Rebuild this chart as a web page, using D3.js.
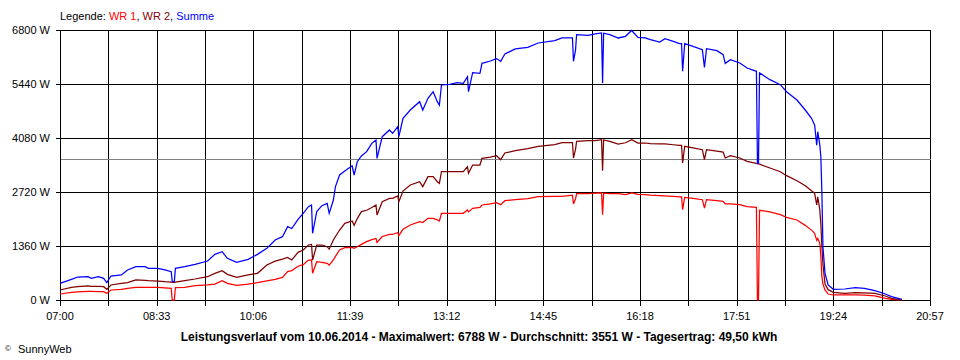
<!DOCTYPE html>
<html><head><meta charset="utf-8">
<script src="https://cdn.jsdelivr.net/npm/d3@7"></script>
<style>
html,body{margin:0;padding:0;background:#fff;}
svg{display:block;font-family:"Liberation Sans",Arial,sans-serif;}
</style></head><body>
<svg id="c" width="960" height="360"></svg>
<script>
const times = [
"07:00","07:11","07:17","07:27","07:30","07:37","07:42","07:45","07:49","07:59",
"08:05","08:13","08:22","08:25","08:34","08:41","08:47","08:48","08:50","08:51",
"09:00","09:10","09:22","09:29","09:36","09:41","09:50","10:01","10:10","10:19",
"10:27","10:34","10:39","10:43","10:49","10:54","10:59","11:02","11:03","11:07",
"11:12","11:17","11:19","11:23","11:25","11:29","11:34","11:41","11:43","11:46",
"11:50","11:55","12:00","12:04","12:05","12:10","12:17","12:20","12:25","12:26",
"12:30","12:37","12:46","12:49","12:54","12:59","13:03","13:05","13:07","13:15",
"13:22","13:28","13:32","13:33","13:37","13:44","13:46","13:54","14:00","14:04",
"14:08","14:18","14:30","14:40","14:56","15:03","15:13","15:14","15:16","15:17",
"15:28","15:35","15:41","15:42","15:43","15:49","15:57","16:04","16:10","16:16",
"16:23","16:28","16:37","16:42","16:50","16:56","16:58","16:59","17:01","17:09",
"17:18","17:20","17:22","17:32","17:38","17:40","17:45","17:54","18:01","18:10",
"18:11","18:12","18:13","18:23","18:33","18:39","18:49","18:57","19:03","19:06",
"19:08","19:09","19:11","19:12","19:13","19:14","19:16","19:19","19:24","19:35",
"19:45","19:54","20:04","20:14","20:20","20:30"];

const wr1 = [
151,193,205,218,218,214,210,168,252,270,
294,319,319,319,319,306,294,0,0,311,
320,361,378,400,487,420,370,400,436,480,
520,571,714,740,850,890,1007,1010,672,965,
950,923,880,1007,1100,1259,1318,1326,1300,1340,
1400,1470,1520,1550,1450,1600,1650,1650,1700,1620,
1780,1889,1973,1950,2057,2057,2020,1990,2183,2183,
2183,2183,2267,2220,2309,2330,2393,2420,2451,2400,
2501,2526,2551,2602,2611,2611,2640,2418,2550,2677,
2677,2690,2695,2149,2690,2677,2677,2652,2695,2660,
2652,2640,2630,2625,2611,2600,2600,2275,2586,2560,
2526,2317,2526,2500,2485,2418,2418,2401,2350,2334,
0,0,2259,2220,2150,2082,2015,1880,1760,1679,
1500,1550,1427,1091,587,400,252,150,126,126,
126,120,101,42,17,0];

const wr2 = [
252,319,336,353,345,345,336,269,378,420,
436,504,495,487,478,462,453,445,445,453,
487,529,587,672,739,647,571,630,672,881,
980,1030,1070,1007,1200,1259,1385,1400,1007,1385,
1385,1343,1280,1511,1600,1763,1931,1990,1880,2050,
2225,2260,2330,2393,2141,2476,2560,2560,2619,2476,
2745,2896,2980,2855,3106,3106,2980,2939,3232,3232,
3232,3232,3358,3190,3400,3400,3567,3600,3634,3534,
3702,3760,3810,3870,3911,3962,3962,3576,3800,3996,
4012,4012,4038,3257,4030,3996,3929,3960,4038,3954,
3954,3940,3929,3929,3910,3895,3895,3450,3870,3830,
3786,3534,3786,3750,3727,3576,3634,3576,3492,3440,
3433,3433,3420,3324,3230,3131,3005,2880,2750,2687,
2393,2600,2267,1900,1343,900,400,260,193,168,
185,180,168,101,42,0];

const summe = [
420,521,579,587,546,587,546,436,604,630,
756,839,839,797,797,756,714,462,462,797,
839,898,982,1150,1217,1049,948,1024,1150,1301,
1511,1595,1847,1800,2032,2183,2351,2393,1679,2225,
2376,2435,2183,2518,2855,3148,3249,3380,3148,3483,
3627,3735,3946,4030,3567,4113,4282,4198,4365,4113,
4575,4785,4995,4785,5079,5246,4995,4911,5415,5432,
5474,5457,5625,5246,5726,5709,5961,6019,6080,6011,
6196,6322,6364,6473,6531,6599,6599,6011,6300,6683,
6666,6700,6725,5465,6720,6683,6599,6641,6788,6616,
6599,6557,6498,6582,6515,6456,6456,5760,6456,6389,
6305,5860,6330,6280,6179,5960,6053,5969,5843,5760,
3433,3433,5717,5549,5423,5246,5037,4785,4575,4407,
3900,4239,3900,3610,2687,1343,672,378,269,277,
311,294,235,151,84,17];

const yTicks = [0,1360,2720,4080,5440,6800];
const xLabels = ["07:00","08:33","10:06","11:39","13:12","14:45","16:18","17:51","19:24","20:57"];
const average = 3551;
const seriesNames = ["WR 1","WR 2","Summe"];
const seriesColors = ["#ff0000","#800000","#0000ff"];
const title = "Leistungsverlauf vom 10.06.2014 - Maximalwert: 6788 W - Durchschnitt: 3551 W - Tagesertrag: 49,50 kWh";

const parse = d3.timeParse("%H:%M");
const svg = d3.select("#c");
const x = d3.scaleTime().domain([parse(xLabels[0]), parse(xLabels[xLabels.length-1])]).range([60,930]);
const y = d3.scaleLinear().domain([0,6800]).range([300,30]);

// grid times: labels and midpoints between them
const gridTimes = [];
xLabels.forEach((l,i) => {
  const t = parse(l);
  gridTimes.push({t, label: l});
  if (i < xLabels.length-1) {
    const n = parse(xLabels[i+1]);
    gridTimes.push({t: new Date((+t + +n)/2), label: null});
  }
});

const grid = svg.append("g").attr("transform","translate(0.5,0.5)").attr("shape-rendering","crispEdges");
grid.selectAll("line.v").data(gridTimes).enter().append("line")
  .attr("x1", d => Math.round(x(d.t))).attr("x2", d => Math.round(x(d.t)))
  .attr("y1", y(6800)).attr("y2", y(0)+5).attr("stroke","#000");
grid.selectAll("line.h").data(yTicks).enter().append("line")
  .attr("x1", 55).attr("x2", 930)
  .attr("y1", d => Math.round(y(d))).attr("y2", d => Math.round(y(d))).attr("stroke","#000");
grid.append("line").attr("x1",60).attr("x2",930)
  .attr("y1", Math.round(y(average))).attr("y2", Math.round(y(average))).attr("stroke","#808080");

// y labels
svg.append("g").selectAll("text").data(yTicks).enter().append("text")
  .attr("x", 50).attr("y", d => y(d)+4).attr("text-anchor","end")
  .attr("font-size",11).text(d => d + " W");
// x labels
svg.append("g").selectAll("text").data(gridTimes.filter(d => d.label)).enter().append("text")
  .attr("x", d => x(d.t)).attr("y", 320).attr("text-anchor","middle")
  .attr("font-size",11).text(d => d.label);

// lines
const pts = times.map(parse);
const line = d3.line().x((d,i) => x(pts[i])).y(d => y(d));
[wr1, wr2, summe].forEach((s,k) => {
  svg.append("path").datum(s).attr("d", line).attr("fill","none")
    .attr("stroke", seriesColors[k]).attr("stroke-width",1.25).attr("stroke-linejoin","miter");
});

// legend
const lg = svg.append("text").attr("x",60).attr("y",20).attr("font-size",11);
lg.append("tspan").attr("fill","#000").text("Legende: ");
seriesNames.forEach((n,i) => {
  lg.append("tspan").attr("fill", seriesColors[i]).text(n);
  if (i < seriesNames.length-1) lg.append("tspan").attr("fill","#000").text(", ");
});

// title
svg.append("text").attr("x",479).attr("y",341).attr("text-anchor","middle")
  .attr("font-size",12).attr("font-weight","bold").text(title);
// copyright
svg.append("text").attr("x",5).attr("y",351).attr("font-size",8).text("©");
svg.append("text").attr("x",18).attr("y",353).attr("font-size",11).text("SunnyWeb");
</script>
</body></html>
